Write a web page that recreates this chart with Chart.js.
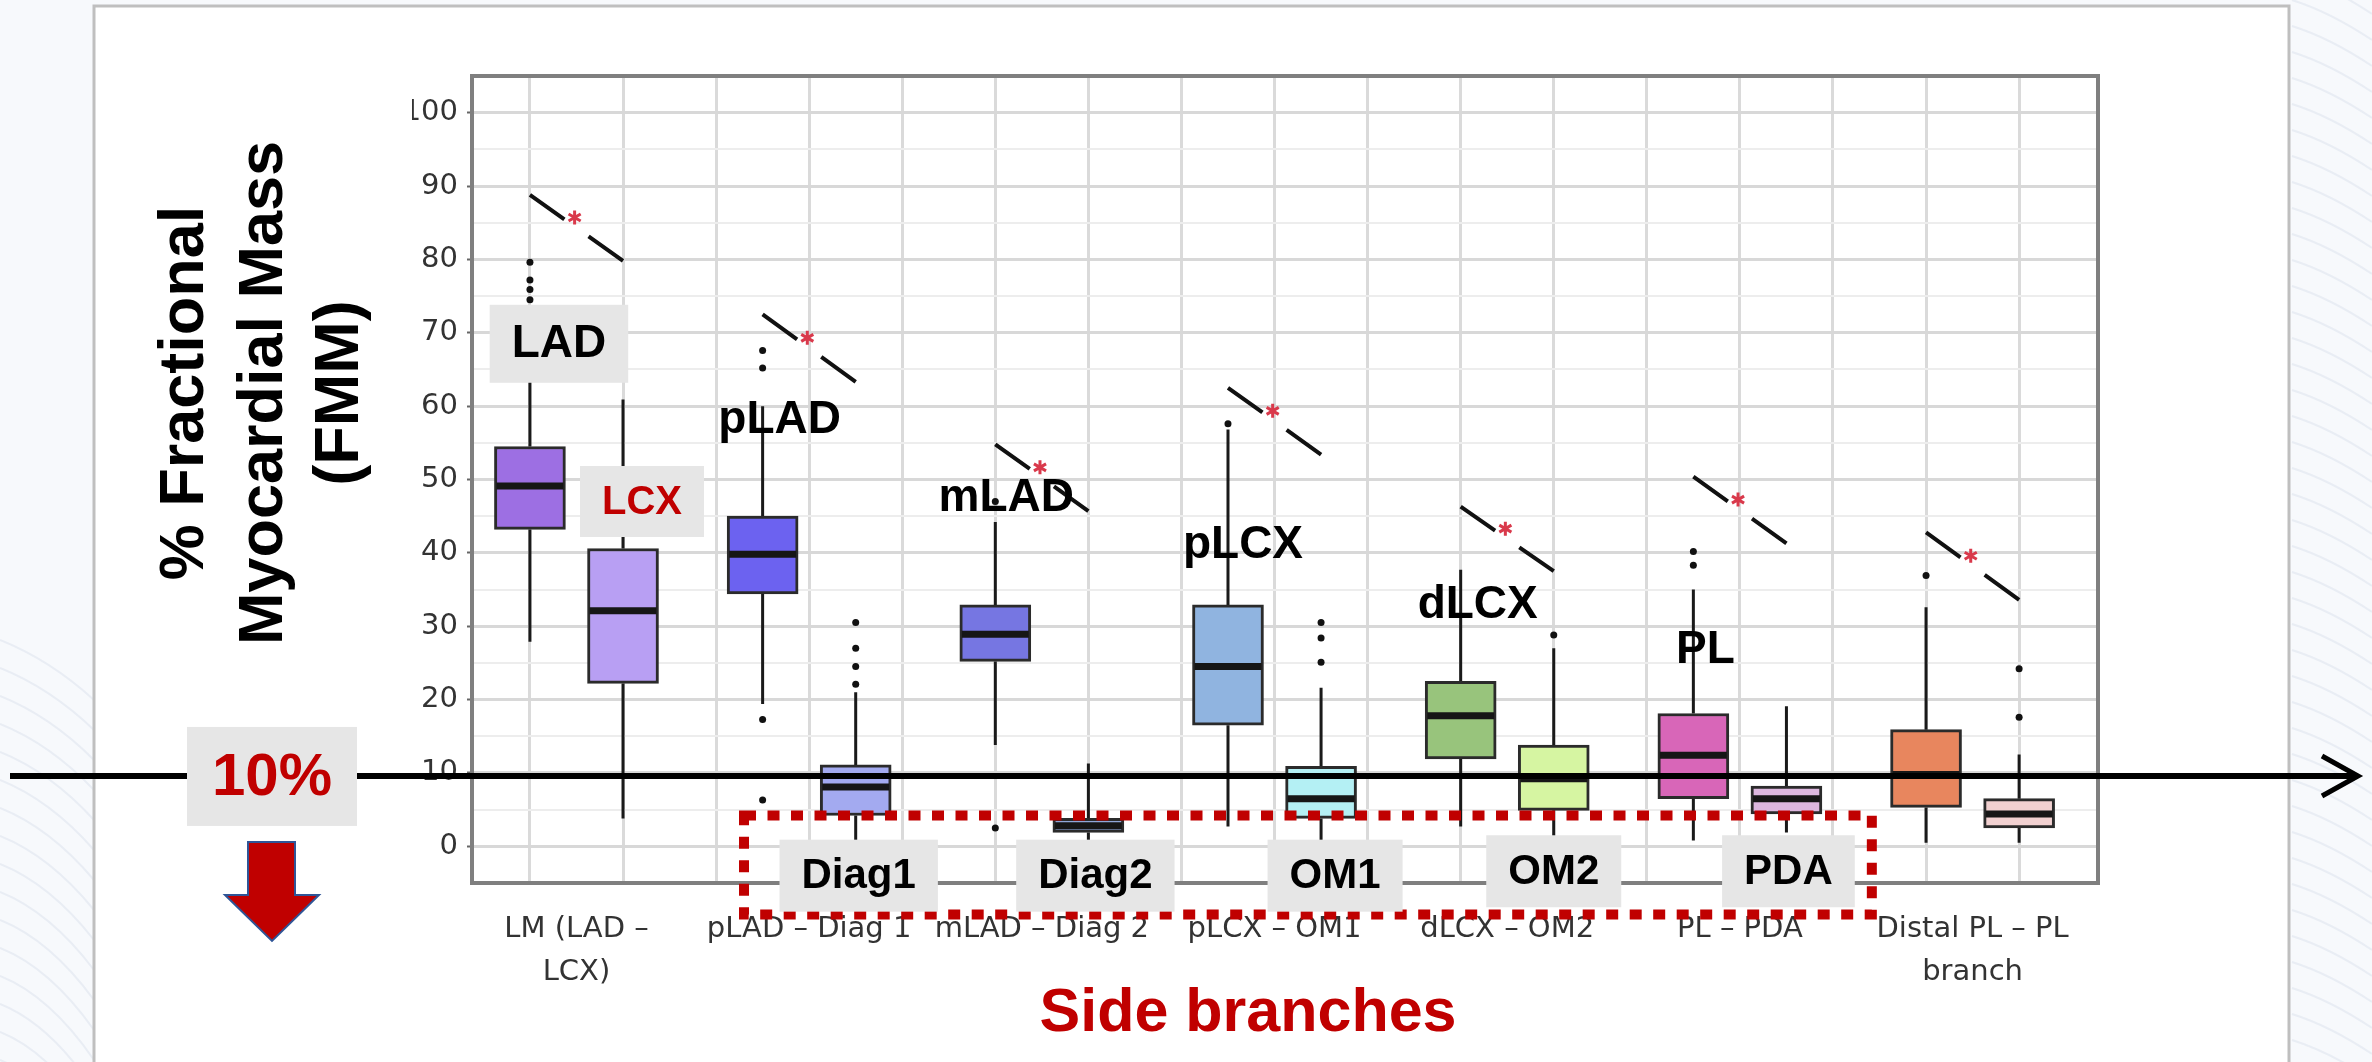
<!DOCTYPE html>
<html>
<head>
<meta charset="utf-8">
<script src="https://cdn.jsdelivr.net/npm/chart.js@4.4.1/dist/chart.umd.min.js"></script>
<style>
    html, body { margin: 0; padding: 0; background: #f7f9fc; }
    canvas { display: block; }
</style>
</head>
<body>
<canvas id="myChart" width="2372" height="1062"></canvas>
<script>
// vessel pairs (main branch vs side branch)
const groupLabels = [
    ['LM (LAD –', 'LCX)'],
    ['pLAD – Diag 1'],
    ['mLAD – Diag 2'],
    ['pLCX – OM1'],
    ['dLCX – OM2'],
    ['PL – PDA'],
    ['Distal PL – PL', 'branch']
];
const boxNames = ['LAD', 'LCX', 'pLAD', 'Diag1', 'mLAD', 'Diag2', 'pLCX', 'OM1', 'dLCX', 'OM2', 'PL', 'PDA', 'Distal PL', 'PL branch'];

// % FMM
const whiskerLow  = [27.9, 3.8, 19.4, 0.5, 13.8, 0.4, 2.7, 0.8, 2.7, 1.0, 0.8, 1.9, 0.5, 0.5];
const q1          = [43.2, 22.2, 34.4, 4.2, 25.2, 1.9, 16.5, 3.8, 11.9, 4.9, 6.5, 4.4, 5.3, 2.5];
const median      = [49.1, 32.1, 39.8, 8.1, 28.9, 2.8, 24.5, 6.5, 17.8, 9.2, 12.4, 6.5, 9.8, 4.4];
const q3          = [54.5, 40.6, 45.0, 11.1, 32.9, 3.8, 32.9, 10.9, 22.5, 13.8, 18.1, 8.2, 15.9, 6.5];
const whiskerHigh = [71.0, 60.9, 60.0, 21.0, 44.2, 11.3, 56.8, 21.6, 37.7, 27.0, 35.0, 19.1, 32.6, 12.5];

const outlierBox   = [0, 0, 0, 0, 2, 2, 2, 2, 3, 3, 3, 3, 4, 4, 6, 7, 7, 7, 9, 10, 10, 12, 13, 13];
const outlierValue = [79.6, 77.2, 75.9, 74.5, 67.6, 65.2, 17.3, 6.3, 22.1, 24.5, 27.0, 30.5, 47.0, 2.5, 57.6, 30.5, 28.4, 25.1, 28.8, 40.2, 38.3, 36.9, 24.2, 17.6];

// significance bars (*), value at main branch end and side branch end
const sigHigh = [88.8, 72.5, 54.8, 62.5, 46.3, 50.4, 42.8];
const sigLow  = [79.8, 63.3, 45.7, 53.4, 37.5, 41.3, 33.6];

const cutoff = 10;

const boxColors = ['#9d6fe3', '#b89ff3', '#6c62f0', '#a3aaf0', '#7676e2', '#8fa6d8', '#90b4e0', '#b4f0f4',
                   '#98c47c', '#d6f5a2', '#d866b8', '#ddb7df', '#e8865e', '#f1d0d0'];

const FONT = '"Liberation Sans", Arial, sans-serif';
const RED = '#c00000';

function boxX(i) {
    return Math.floor(i / 2) + (i % 2 ? 0.2 : -0.2);
}

const boxPlot = {
    id: 'boxPlot',
    beforeDraw(chart) {
        const c = chart.ctx;
        c.save();
        c.fillStyle = '#f7f9fc';
        c.fillRect(0, 0, chart.width, chart.height);
        c.strokeStyle = 'rgba(205,214,228,0.35)';
        c.lineWidth = 2;
        for (let k = -4; k < 45; k++) {
            c.beginPath();
            c.moveTo(2292, k * 26);
            c.quadraticCurveTo(2330, k * 26 + 12, 2372, k * 26 + 40);
            c.stroke();
        }
        for (let k = 0; k < 16; k++) {
            c.beginPath();
            c.moveTo(0, 640 + k * 28);
            c.quadraticCurveTo(50, 660 + k * 28, 94, 700 + k * 30);
            c.stroke();
        }
        c.fillStyle = '#ffffff';
        c.fillRect(94, 6, 2195, 1070);
        c.strokeStyle = '#bfbfbf';
        c.lineWidth = 3;
        c.strokeRect(94, 6, 2195, 1070);
        c.restore();
    },
    beforeDatasetsDraw(chart) {
        const {ctx: c, scales: {x, y}} = chart;
        c.save();
        c.strokeStyle = '#1a1a1a';
        c.lineWidth = 3;
        boxNames.forEach((n, i) => {
            const px = x.getPixelForValue(boxX(i));
            c.beginPath();
            c.moveTo(px, y.getPixelForValue(whiskerLow[i]));
            c.lineTo(px, y.getPixelForValue(q1[i]));
            c.moveTo(px, y.getPixelForValue(q3[i]));
            c.lineTo(px, y.getPixelForValue(whiskerHigh[i]));
            c.stroke();
        });
        c.restore();
    },
    afterDatasetsDraw(chart) {
        const {ctx: c, scales: {y}} = chart;
        const meta = chart.getDatasetMeta(1);
        c.save();
        c.strokeStyle = '#161616';
        c.lineWidth = 7;
        boxNames.forEach((n, i) => {
            const bar = meta.data[i];
            const half = bar.width / 2 - 2;
            const py = y.getPixelForValue(median[i]);
            c.beginPath();
            c.moveTo(bar.x - half, py);
            c.lineTo(bar.x + half, py);
            c.stroke();
        });
        c.restore();
    }
};

function tag(c, text, cx, cy, size, color, h) {
    c.font = 'bold ' + size + 'px ' + FONT;
    const w = c.measureText(text).width + 44;
    c.fillStyle = '#e6e6e6';
    c.fillRect(cx - w / 2, cy - h / 2, w, h);
    c.fillStyle = color;
    c.textAlign = 'center';
    c.textBaseline = 'middle';
    c.fillText(text, cx, cy + 1);
}

function star(c, cx, cy) {
    c.save();
    c.strokeStyle = '#d9394b';
    c.lineWidth = 3;
    c.beginPath();
    for (let a = 0; a < 3; a++) {
        const ang = Math.PI / 2 + a * Math.PI / 3;
        c.moveTo(cx + 7 * Math.cos(ang), cy + 7 * Math.sin(ang));
        c.lineTo(cx - 7 * Math.cos(ang), cy - 7 * Math.sin(ang));
    }
    c.stroke();
    c.restore();
}

const decor = {
    id: 'decor',
    afterDraw(chart) {
        const {ctx: c, chartArea: a, scales: {x, y}} = chart;
        c.save();

        // plot frame
        c.strokeStyle = '#7f7f7f';
        c.lineWidth = 4;
        c.strokeRect(a.left, a.top, a.right - a.left, a.bottom - a.top);

        // category labels
        c.fillStyle = '#333';
        c.font = '29px "DejaVu Sans", sans-serif';
        c.textAlign = 'center';
        c.textBaseline = 'middle';
        groupLabels.forEach((lines, g) => {
            lines.forEach((t, k) => c.fillText(t, x.getPixelForValue(g), a.bottom + 46 + k * 43));
        });

        // significance bars
        c.strokeStyle = '#111';
        c.lineWidth = 4;
        sigHigh.forEach((hv, g) => {
            const x1 = x.getPixelForValue(boxX(2 * g)), x2 = x.getPixelForValue(boxX(2 * g + 1));
            const y1 = y.getPixelForValue(hv), y2 = y.getPixelForValue(sigLow[g]);
            c.beginPath();
            c.moveTo(x1, y1);
            c.lineTo(x1 + (x2 - x1) * 0.37, y1 + (y2 - y1) * 0.37);
            c.moveTo(x1 + (x2 - x1) * 0.63, y1 + (y2 - y1) * 0.63);
            c.lineTo(x2, y2);
            c.stroke();
            star(c, x1 + (x2 - x1) * 0.48, y1 + (y2 - y1) * 0.48 - 9);
        });

        // main branch labels
        c.fillStyle = '#000';
        c.font = 'bold 46px ' + FONT;
        c.textAlign = 'center';
        c.textBaseline = 'alphabetic';
        [['pLAD', 2, 56.3, 17], ['mLAD', 4, 45.7, 11], ['pLCX', 6, 39.3, 15], ['dLCX', 8, 31.1, 17], ['PL', 10, 25.0, 12]]
            .forEach(([t, b, v, dx]) => c.fillText(t, x.getPixelForValue(boxX(b)) + dx, y.getPixelForValue(v)));
        tag(c, 'LAD', x.getPixelForValue(boxX(0)) + 29, y.getPixelForValue(68.5), 46, '#000', 78);
        tag(c, 'LCX', x.getPixelForValue(boxX(1)) + 19, y.getPixelForValue(47.0), 40, RED, 71);

        // 10% threshold arrow
        const ly = y.getPixelForValue(cutoff) + 3;
        c.strokeStyle = '#000';
        c.lineWidth = 6;
        c.beginPath();
        c.moveTo(10, ly);
        c.lineTo(2356, ly);
        c.stroke();
        c.lineWidth = 5;
        c.beginPath();
        c.moveTo(2322, ly - 20);
        c.lineTo(2358, ly);
        c.lineTo(2322, ly + 20);
        c.stroke();

        c.fillStyle = '#e6e6e6';
        c.fillRect(187, ly - 49, 170, 99);
        c.fillStyle = RED;
        c.font = 'bold 60px ' + FONT;
        c.textAlign = 'center';
        c.textBaseline = 'middle';
        c.fillText('10%', 272, ly + 2);

        c.beginPath();
        c.moveTo(248, ly + 66);
        c.lineTo(295, ly + 66);
        c.lineTo(295, ly + 119);
        c.lineTo(319, ly + 119);
        c.lineTo(272, ly + 165);
        c.lineTo(225, ly + 119);
        c.lineTo(248, ly + 119);
        c.closePath();
        c.fillStyle = RED;
        c.fill();
        c.strokeStyle = '#2f5597';
        c.lineWidth = 2;
        c.stroke();

        // side branch box
        c.strokeStyle = RED;
        c.lineWidth = 10;
        c.setLineDash([12, 11.5]);
        const rx1 = x.getPixelForValue(0.72), rx2 = x.getPixelForValue(5.567);
        const ry1 = y.getPixelForValue(4.2), ry2 = y.getPixelForValue(-9.3);
        c.strokeRect(rx1, ry1, rx2 - rx1, ry2 - ry1);
        c.setLineDash([]);

        [['Diag1', 3, -4.0, 3], ['Diag2', 5, -4.0, 7], ['OM1', 7, -4.0, 14], ['OM2', 9, -3.4, 0], ['PDA', 11, -3.4, 2]]
            .forEach(([t, b, v, dx]) => tag(c, t, x.getPixelForValue(boxX(b)) + dx, y.getPixelForValue(v), 42, '#000', 72));

        // axis title
        c.fillStyle = '#000';
        c.font = 'bold 63px ' + FONT;
        c.textAlign = 'center';
        c.textBaseline = 'alphabetic';
        [['% Fractional', 203], ['Myocardial Mass', 282], ['(FMM)', 358]].forEach(([t, bx]) => {
            c.save();
            c.translate(bx, 393);
            c.rotate(-Math.PI / 2);
            c.fillText(t, 0, 0);
            c.restore();
        });

        c.fillStyle = RED;
        c.font = 'bold 61px ' + FONT;
        c.fillText('Side branches', 1248, 1031);
        c.restore();
    }
};

const isMajor = v => Math.round(v) % 10 === 0;
const isLabelled = v => isMajor(v) && v >= 0 && v <= 100;

const ctx = document.getElementById('myChart').getContext('2d');
const chart = new Chart(ctx, {
    type: 'bar',
    data: {
        datasets: [{
            type: 'scatter',
            label: 'Outliers',
            order: 0,
            data: outlierBox.map((b, k) => ({ x: boxX(b), y: outlierValue[k] })),
            pointRadius: 3.5,
            pointBackgroundColor: '#111',
            pointBorderWidth: 0
        }, {
            type: 'bar',
            label: 'IQR',
            order: 1,
            data: boxNames.map((n, i) => ({ x: boxX(i), y: [q1[i], q3[i]] })),
            backgroundColor: boxColors,
            borderColor: '#2b2b2b',
            borderWidth: 3,
            borderSkipped: false,
            barThickness: 71
        }]
    },
    options: {
        responsive: false,
        animation: false,
        devicePixelRatio: 1,
        layout: { padding: { left: 412, right: 274, top: 76, bottom: 179 } },
        plugins: { legend: { display: false }, tooltip: { enabled: false } },
        scales: {
            x: {
                type: 'linear',
                min: -0.449,
                max: 6.539,
                offset: false,
                grid: { color: '#dadada', lineWidth: 3, drawTicks: false, offset: false },
                border: { display: false },
                ticks: { display: false },
                afterBuildTicks: s => {
                    s.ticks = [];
                    for (let k = 0; k <= 16; k++) s.ticks.push({ value: -0.2 + 0.4 * k });
                },
                afterFit: s => { s.height = 0; s.paddingLeft = 0; s.paddingRight = 0; }
            },
            y: {
                min: -5,
                max: 105,
                grid: {
                    color: c => isMajor(c.tick.value) ? '#d8d8d8' : '#ededed',
                    lineWidth: c => isMajor(c.tick.value) ? 3 : 2,
                    tickLength: 5,
                    tickWidth: 2,
                    tickColor: c => isLabelled(c.tick.value) ? '#666' : 'rgba(0,0,0,0)'
                },
                border: { display: false },
                ticks: {
                    stepSize: 5,
                    maxTicksLimit: 30,
                    autoSkip: false,
                    padding: 9,
                    color: '#333',
                    font: { family: '"DejaVu Sans", sans-serif', size: 29 },
                    callback: v => isLabelled(v) ? Math.round(v) : ''
                },
                afterFit: s => { s.width = 60; s.paddingTop = 0; s.paddingBottom = 0; }
            }
        }
    },
    plugins: [boxPlot, decor]
});
</script>
</body>
</html>
